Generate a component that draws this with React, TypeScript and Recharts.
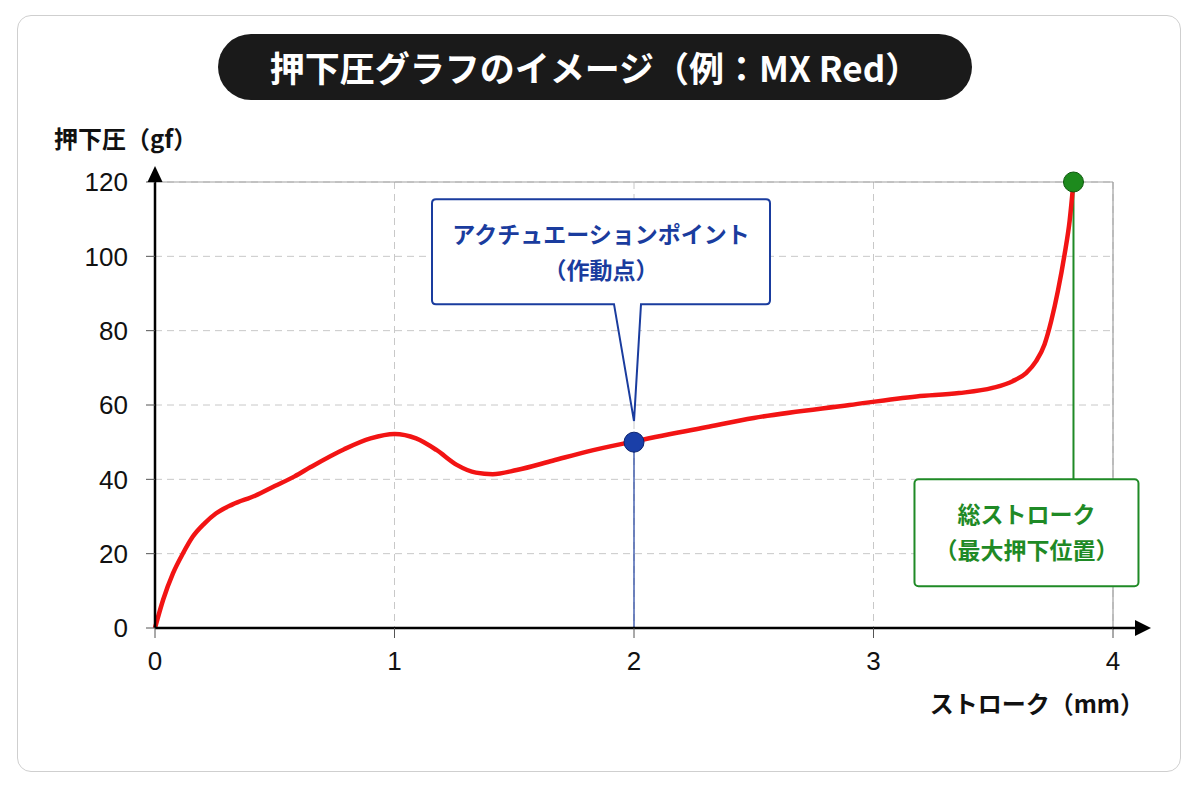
import React from 'react';
import {
  LineChart,
  Line,
  XAxis,
  YAxis,
  CartesianGrid,
  ReferenceLine,
  ReferenceDot,
} from 'recharts';

// stroke (mm) / force (gf)
const strokeMm = [
  0, 0.034, 0.075, 0.117, 0.158, 0.206, 0.254, 0.322, 0.418, 0.5, 0.583, 0.65, 0.79, 0.9,
  1.0, 1.09, 1.175, 1.26, 1.34, 1.41, 1.51, 1.66, 1.8, 2.0, 2.3, 2.5, 2.9, 3.18, 3.357,
  3.497, 3.581, 3.637, 3.679, 3.714, 3.742, 3.77, 3.798, 3.819, 3.835,
];
const forceGf = [
  0, 7.6, 14.7, 20.1, 24.6, 28.1, 30.8, 33.2, 35.6, 38.2, 40.8, 43.3, 48.1, 51,
  52.2, 51, 47.9, 43.9, 41.8, 41.4, 42.5, 45.0, 47.4, 50.2, 54, 56.5, 60, 62.3, 63.2,
  64.6, 66.4, 68.6, 71.8, 76.3, 82.6, 90.7, 100.6, 109.6, 120,
];

const xTicks = [0, 1, 2, 3, 4];
const yTicks = [0, 20, 40, 60, 80, 100, 120];

const actuation = { x: 2, y: 50 };
const totalTravel = { x: 3.835, y: 120 };
const greenBoxTop = 40;

const data = strokeMm.map((x, i) => ({ x, f: forceGf[i] }));

const BLUE = '#1a3c9e';
const GREEN = '#1f8a26';
const JP = '"Noto Sans CJK JP", "Noto Sans", sans-serif';
const NUM = '"Liberation Sans", Arial, sans-serif';

// callout box + pointer above the actuation point
const BlueCallout = (props: any) => {
  const { cx, cy } = props;
  const left = cx - 202;
  const right = cx + 136;
  const top = cy - 243;
  const bottom = cy - 138;
  const r = 4;
  const path = `M ${left + r} ${top} H ${right - r} Q ${right} ${top} ${right} ${top + r}
    V ${bottom - r} Q ${right} ${bottom} ${right - r} ${bottom}
    H ${cx + 7} L ${cx} ${cy - 21} L ${cx - 20} ${bottom}
    H ${left + r} Q ${left} ${bottom} ${left} ${bottom - r}
    V ${top + r} Q ${left} ${top} ${left + r} ${top} Z`;
  const mid = (left + right) / 2;
  return (
    <g>
      <path d={path} fill="#fff" stroke={BLUE} strokeWidth={2} />
      <text x={mid} y={top + 44} textAnchor="middle" fill={BLUE} fontFamily={JP} fontWeight={700} fontSize={23}>
        アクチュエーションポイント
      </text>
      <text x={mid} y={top + 80} textAnchor="middle" fill={BLUE} fontFamily={JP} fontWeight={700} fontSize={23}>
        （作動点）
      </text>
    </g>
  );
};

const GreenCallout = (props: any) => {
  const { cx, cy } = props;
  const left = cx - 159;
  const w = 224;
  const h = 107;
  return (
    <g>
      <rect x={left} y={cy} width={w} height={h} rx={4} fill="#fff" stroke={GREEN} strokeWidth={2} />
      <text x={left + w / 2} y={cy + 44} textAnchor="middle" fill={GREEN} fontFamily={JP} fontWeight={700} fontSize={23}>
        総ストローク
      </text>
      <text x={left + w / 2} y={cy + 80} textAnchor="middle" fill={GREEN} fontFamily={JP} fontWeight={700} fontSize={23}>
        （最大押下位置）
      </text>
    </g>
  );
};

const XArrow = (props: any) => {
  const { cx, cy } = props;
  return (
    <g>
      <line x1={cx} y1={cy} x2={cx + 26} y2={cy} stroke="#000" strokeWidth={2.5} />
      <path d={`M ${cx + 22} ${cy - 8} L ${cx + 38} ${cy} L ${cx + 22} ${cy + 8} Z`} fill="#000" />
    </g>
  );
};

const YArrow = (props: any) => {
  const { cx, cy } = props;
  return <path d={`M ${cx - 7.5} ${cy} L ${cx} ${cy - 16} L ${cx + 7.5} ${cy} Z`} fill="#000" />;
};

export default function App() {
  return (
    <div style={{ position: 'absolute', left: 0, top: 0, width: 1200, height: 800, background: '#fff', fontFamily: JP }}>
      <div
        style={{
          position: 'absolute',
          left: 17,
          top: 15,
          width: 1164,
          height: 757,
          border: '1.5px solid #cfcfcf',
          borderRadius: 14,
          boxSizing: 'border-box',
        }}
      />
      <div
        style={{
          position: 'absolute',
          left: 218,
          top: 34,
          width: 754,
          height: 66,
          borderRadius: 33,
          background: '#1a1a1a',
          color: '#fff',
          fontSize: 35,
          fontWeight: 700,
          lineHeight: '66px',
          textAlign: 'center',
        }}
      >
        押下圧グラフのイメージ（例：MX Red）
      </div>
      <div style={{ position: 'absolute', left: 54, top: 122, fontSize: 24, fontWeight: 700, color: '#111', lineHeight: '32px' }}>
        押下圧（gf）
      </div>
      <div style={{ position: 'absolute', right: 56, top: 687, fontSize: 24, fontWeight: 700, color: '#111', lineHeight: '32px' }}>
        ストローク（mm）
      </div>

      <div style={{ position: 'absolute', left: 0, top: 0 }}>
        <LineChart width={1200} height={800} data={data} margin={{ top: 182, right: 87, bottom: 132, left: 95 }}>
          <CartesianGrid stroke="#c8c8c8" strokeDasharray="7 5" verticalValues={xTicks} horizontalValues={yTicks} />
          <ReferenceLine y={120} stroke="#a0a0a0" strokeWidth={1.2} />
          <ReferenceLine x={4} stroke="#a0a0a0" strokeWidth={1.2} />
          <XAxis
            type="number"
            dataKey="x"
            domain={[0, 4]}
            ticks={xTicks}
            height={40}
            axisLine={{ stroke: '#000', strokeWidth: 2.5 }}
            tickLine={{ stroke: '#555', strokeWidth: 1 }}
            tickSize={10}
            tickMargin={14}
            tick={{ fill: '#111', fontSize: 26, fontFamily: NUM }}
          />
          <YAxis
            type="number"
            domain={[0, 120]}
            ticks={yTicks}
            width={60}
            axisLine={{ stroke: '#000', strokeWidth: 2.5 }}
            tickLine={{ stroke: '#555', strokeWidth: 1 }}
            tickSize={9}
            tickMargin={18}
            tick={{ fill: '#111', fontSize: 26, fontFamily: NUM }}
          />
          <ReferenceDot x={4} y={0} r={0} ifOverflow="visible" shape={XArrow} />
          <ReferenceDot x={0} y={120} r={0} ifOverflow="visible" shape={YArrow} />
          <ReferenceLine
            segment={[{ x: actuation.x, y: 0 }, { x: actuation.x, y: actuation.y }]}
            stroke={BLUE}
            strokeWidth={1.2}
          />
          <ReferenceLine
            segment={[{ x: totalTravel.x, y: greenBoxTop }, { x: totalTravel.x, y: totalTravel.y }]}
            stroke={GREEN}
            strokeWidth={2}
          />
          <Line
            type="monotone"
            dataKey="f"
            stroke="#f21414"
            strokeWidth={4.5}
            dot={false}
            activeDot={false}
            isAnimationActive={false}
          />
          <ReferenceDot x={actuation.x} y={actuation.y} r={0} ifOverflow="visible" shape={BlueCallout} />
          <ReferenceDot x={actuation.x} y={actuation.y} r={10} fill="#1a3fa8" stroke="#0c2370" strokeWidth={1} />
          <ReferenceDot x={totalTravel.x} y={totalTravel.y} r={10} fill="#1d8a1d" stroke="#0d5a0d" strokeWidth={1} ifOverflow="visible" />
          <ReferenceDot x={totalTravel.x} y={greenBoxTop} r={0} ifOverflow="visible" shape={GreenCallout} />
        </LineChart>
      </div>
    </div>
  );
}
